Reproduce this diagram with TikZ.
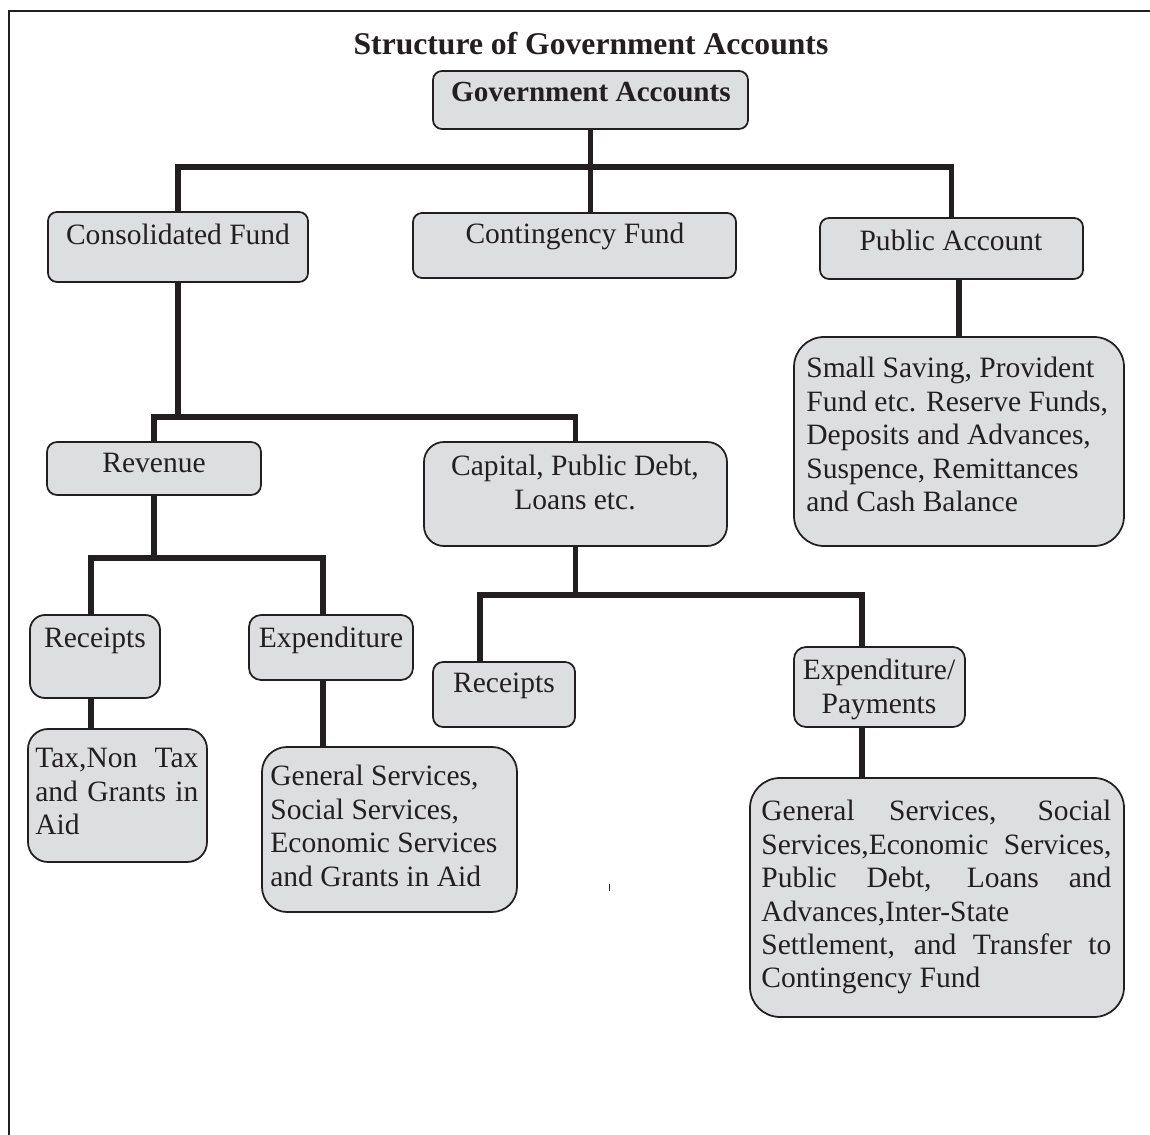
\documentclass[tikz,border=0pt]{standalone}
\usepackage{fontspec}
\setmainfont{Liberation Serif}
\definecolor{acctGray}{RGB}{221,222,224}
\definecolor{acctLine}{RGB}{35,31,32}

\begin{document}
\begin{tikzpicture}[x=0.2mm, y=-0.2mm,
    box/.style={rectangle, rounded corners=#1, draw=acctLine, line width=1pt,
                fill=acctGray, inner sep=0pt},
    box/.default=1.8mm,
    txt/.style={inner sep=0pt, text=acctLine, font=\fontsize{16.8}{19}\selectfont},
    link/.style={draw=acctLine, line width=3pt},
    frame/.style={draw=acctLine, line width=0.9pt}
  ]
  \useasboundingbox (0,0) rectangle (1150,1135);
  \draw[frame] (9,1135) -- (9,11) -- (1150,11);

  \node[txt, font=\fontsize{18}{21}\selectfont\bfseries] (title) at (591,44) {Structure of Government Accounts};

  \node[box, minimum width=63mm, minimum height=11.6mm]      (gov)   at (590.5,100)  {};
  \node[box, minimum width=52mm, minimum height=14mm]        (cons)  at (178,247)    {};
  \node[box, minimum width=64.6mm, minimum height=13mm]      (cont)  at (574.5,245.5) {};
  \node[box, minimum width=52.6mm, minimum height=12.2mm]    (pub)   at (951.5,248.5) {};
  \node[box=6mm, minimum width=66mm, minimum height=41.8mm]  (small) at (959,441.5)  {};
  \node[box=2mm, minimum width=42.8mm, minimum height=10.6mm] (rev)  at (154,468.5)  {};
  \node[box=4mm, minimum width=60.6mm, minimum height=20.8mm] (cap)  at (575.5,494)  {};
  \node[box=3mm, minimum width=26mm, minimum height=16.6mm]  (rrec)  at (95,656.5)   {};
  \node[box=2.4mm, minimum width=32.8mm, minimum height=13mm] (rexp) at (331,647.5)  {};
  \node[box=2mm, minimum width=28.4mm, minimum height=13mm]  (crec)  at (504,694.5)  {};
  \node[box=2.4mm, minimum width=34.2mm, minimum height=16mm] (cexp) at (879.5,687)  {};
  \node[box=4mm, minimum width=35.8mm, minimum height=26.6mm] (tax)  at (117.5,795.5) {};
  \node[box=5mm, minimum width=51mm, minimum height=33mm]    (rgen)  at (389.5,829.5) {};
  \node[box=6mm, minimum width=74.8mm, minimum height=47.8mm] (big)  at (937,897.5)  {};

  \node[txt, font=\fontsize{16.6}{19}\selectfont\bfseries] (gov-t) at (591,92) {Government Accounts};
  \node[txt] (cons-t) at (178,234) {Consolidated Fund};
  \node[txt] (cont-t) at (575,236) {Contingency Fund};
  \node[txt] (pub-t)  at (951,240) {Public Account};
  \node[txt, align=left, anchor=north west] (small-t) at (806,357)
    {Small Saving, Provident\\Fund etc. Reserve Funds,\\Deposits and Advances,\\Suspence, Remittances\\and Cash Balance};
  \node[txt] (rev-t)  at (154,463) {Revenue};
  \node[txt, align=center, anchor=north] (cap-t) at (575,455) {Capital, Public Debt,\\Loans etc.};
  \node[txt] (rrec-t) at (95,641)  {Receipts};
  \node[txt] (rexp-t) at (331,640) {Expenditure};
  \node[txt] (crec-t) at (504,686) {Receipts};
  \node[txt, align=center, anchor=north] (cexp-t) at (879,659) {Expenditure/\\Payments};
  \node[txt, align=left, anchor=north west] (tax-t) at (35,748)
    {\makebox[32.6mm][s]{Tax,Non Tax}\\\makebox[32.6mm][s]{and Grants in}\\Aid};
  \node[txt, align=left, anchor=north west] (rgen-t) at (270,765)
    {General Services,\\Social Services,\\Economic Services\\and Grants in Aid};
  \node[txt, align=left, anchor=north west] (big-t) at (761,800)
    {\makebox[70mm][s]{General Services, Social}\\\makebox[70mm][s]{Services,Economic Services,}\\\makebox[70mm][s]{Public Debt, Loans and}\\Advances,Inter-State\\\makebox[70mm][s]{Settlement, and Transfer to}\\Contingency Fund};

  \coordinate (j1) at (0,167);
  \coordinate (j2) at (0,417);
  \coordinate (j3l) at (91,558);
  \coordinate (j3r) at (323,558);
  \coordinate (j4l) at (480,595);
  \coordinate (j4r) at (862,595);

  \draw[link] (gov.south) -- (gov.south |- cont.north);
  \draw[link] (cons.north) -- (cons.north |- j1) -- (pub.north |- j1) -- (pub.north);
  \draw[link] (small.north |- pub.south) -- (small.north);
  \draw[link] (cons.south) -- (cons.south |- j2);
  \draw[link] (rev.north) -- (rev.north |- j2) -- (cap.north |- j2) -- (cap.north);
  \draw[link] (rev.south) -- (rev.south |- j3l);
  \draw[link] (j3l |- rrec.north) -- (j3l) -- (j3r) -- (j3r |- rexp.north);
  \draw[link] (j3l |- rrec.south) -- (j3l |- tax.north);
  \draw[link] (j3r |- rexp.south) -- (j3r |- rgen.north);
  \draw[link] (cap.south) -- (cap.south |- j4l);
  \draw[link] (j4l |- crec.north) -- (j4l) -- (j4r) -- (j4r |- cexp.north);
  \draw[link] (j4r |- cexp.south) -- (j4r |- big.north);

  \draw[acctLine, line width=0.5pt] (609,884) -- (609,891);
\end{tikzpicture}
\end{document}
